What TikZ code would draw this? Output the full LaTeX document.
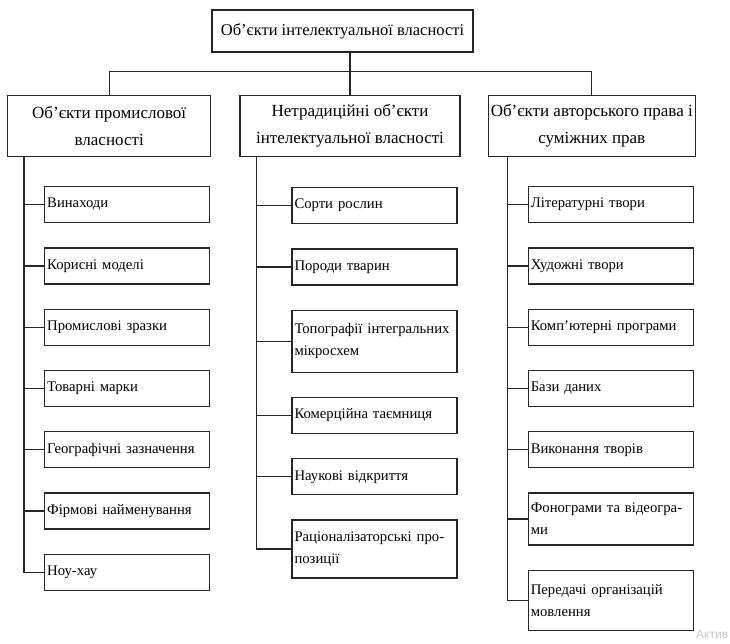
\documentclass[tikz,border=0pt]{standalone}
\usepackage{fontspec}
\setmainfont{Liberation Serif}
\newfontfamily\markfont{Liberation Sans}
\usetikzlibrary{positioning}
\tikzset{ipgroup/.style={draw=black!85,
                        line width=1.3pt,
                        align=center,
                        inner sep=2pt,
                        font=\fontsize{17}{27}\selectfont
                        },
        ipitem/.style={draw=black!85,
                        line width=1.3pt,
                        text width=160pt,
                        minimum height=36pt,
                        align=left,
                        inner sep=2.5pt,
                        font=\fontsize{14.7}{22}\selectfont
        },
        iplink/.style={black!85, line width=1.3pt},
}

\begin{document}
\begin{tikzpicture}
    [x=1pt,y=1pt,node distance=24pt]

    \useasboundingbox (0,0) rectangle (730,-644);

    % TOP LEVEL
    \node[ipgroup, minimum width=261pt, minimum height=42pt, font=\fontsize{16.5}{20}\selectfont] (objectsIP) at (342.5,-31) {Об’єкти інтелектуальної власності};

    \node[ipgroup, minimum width=220pt, minimum height=61pt, below=42pt of objectsIP, xshift=7.5pt] (nontraditional) {Нетрадиційні об’єкти\\інтелектуальної власності};

    \node[ipgroup, minimum width=203pt, minimum height=61pt, left=28pt of nontraditional] (industrialProp) {Об’єкти промислової\\власності};

    \node[ipgroup, minimum width=207pt, minimum height=61pt, right=27pt of nontraditional] (copyright) {Об’єкти авторського права і\\суміжних прав};

    \draw[iplink] (nontraditional.north) -- (nontraditional.north |- objectsIP.south);
    \draw[iplink] (industrialProp.north) |- ([yshift=23pt]copyright.north) -- (copyright.north);

    % INDUSTRIAL PROPERTY
    \node[ipitem, below right=29pt and 37pt of industrialProp.south west] (inventions) {Винаходи};
    \node[ipitem, below=of inventions] (utilityModels) {Корисні моделі};
    \node[ipitem, below=of utilityModels] (industrialDesigns) {Промислові зразки};
    \node[ipitem, below=of industrialDesigns] (trademarks) {Товарні марки};
    \node[ipitem, below=of trademarks] (geoIndications) {Географічні зазначення};
    \node[ipitem, below=of geoIndications] (tradeNames) {Фірмові найменування};
    \node[ipitem, below=of tradeNames] (knowHow) {Ноу-хау};

    \coordinate (busA) at ([xshift=17pt]industrialProp.south west);
    \draw[iplink] (busA) |- (knowHow.west);
    \draw[iplink] (inventions.west) -- (inventions.west -| busA);
    \draw[iplink] (utilityModels.west) -- (utilityModels.west -| busA);
    \draw[iplink] (industrialDesigns.west) -- (industrialDesigns.west -| busA);
    \draw[iplink] (trademarks.west) -- (trademarks.west -| busA);
    \draw[iplink] (geoIndications.west) -- (geoIndications.west -| busA);
    \draw[iplink] (tradeNames.west) -- (tradeNames.west -| busA);

    % NONTRADITIONAL OBJECTS
    \node[ipitem, below right=30pt and 52pt of nontraditional.south west] (plantVarieties) {Сорти рослин};
    \node[ipitem, below=of plantVarieties] (animalBreeds) {Породи тварин};
    \node[ipitem, below=of animalBreeds, minimum height=62pt] (chipTopographies) {Топографії інтегральних\\мікросхем};
    \node[ipitem, below=of chipTopographies] (tradeSecret) {Комерційна таємниця};
    \node[ipitem, below=of tradeSecret] (discoveries) {Наукові відкриття};
    \node[ipitem, below=of discoveries, minimum height=58pt] (rationalProposals) {Раціоналізаторські про-\\позиції};

    \coordinate (busB) at ([xshift=17pt]nontraditional.south west);
    \draw[iplink] (busB) |- (rationalProposals.west);
    \draw[iplink] (plantVarieties.west) -- (plantVarieties.west -| busB);
    \draw[iplink] (animalBreeds.west) -- (animalBreeds.west -| busB);
    \draw[iplink] (chipTopographies.west) -- (chipTopographies.west -| busB);
    \draw[iplink] (tradeSecret.west) -- (tradeSecret.west -| busB);
    \draw[iplink] (discoveries.west) -- (discoveries.west -| busB);

    % COPYRIGHT
    \node[ipitem, below right=29pt and 40pt of copyright.south west] (literaryWorks) {Літературні твори};
    \node[ipitem, below=of literaryWorks] (artWorks) {Художні твори};
    \node[ipitem, below=of artWorks] (computerPrograms) {Комп’ютерні програми};
    \node[ipitem, below=of computerPrograms] (databases) {Бази даних};
    \node[ipitem, below=of databases] (performances) {Виконання творів};
    \node[ipitem, below=of performances, minimum height=52pt] (phonograms) {Фонограми та відеогра-\\ми};
    \node[ipitem, below=of phonograms, minimum height=60pt] (broadcasts) {Передачі організацій\\мовлення};

    \coordinate (busC) at ([xshift=20pt]copyright.south west);
    \draw[iplink] (busC) |- (broadcasts.west);
    \draw[iplink] (literaryWorks.west) -- (literaryWorks.west -| busC);
    \draw[iplink] (artWorks.west) -- (artWorks.west -| busC);
    \draw[iplink] (computerPrograms.west) -- (computerPrograms.west -| busC);
    \draw[iplink] (databases.west) -- (databases.west -| busC);
    \draw[iplink] (performances.west) -- (performances.west -| busC);
    \draw[iplink] (phonograms.west) -- (phonograms.west -| busC);

    \node[anchor=base west, inner sep=0pt, text=gray!45, font=\markfont\fontsize{12}{12}\selectfont] (watermark) at (696,-638) {Актив};

\end{tikzpicture}
\end{document}
